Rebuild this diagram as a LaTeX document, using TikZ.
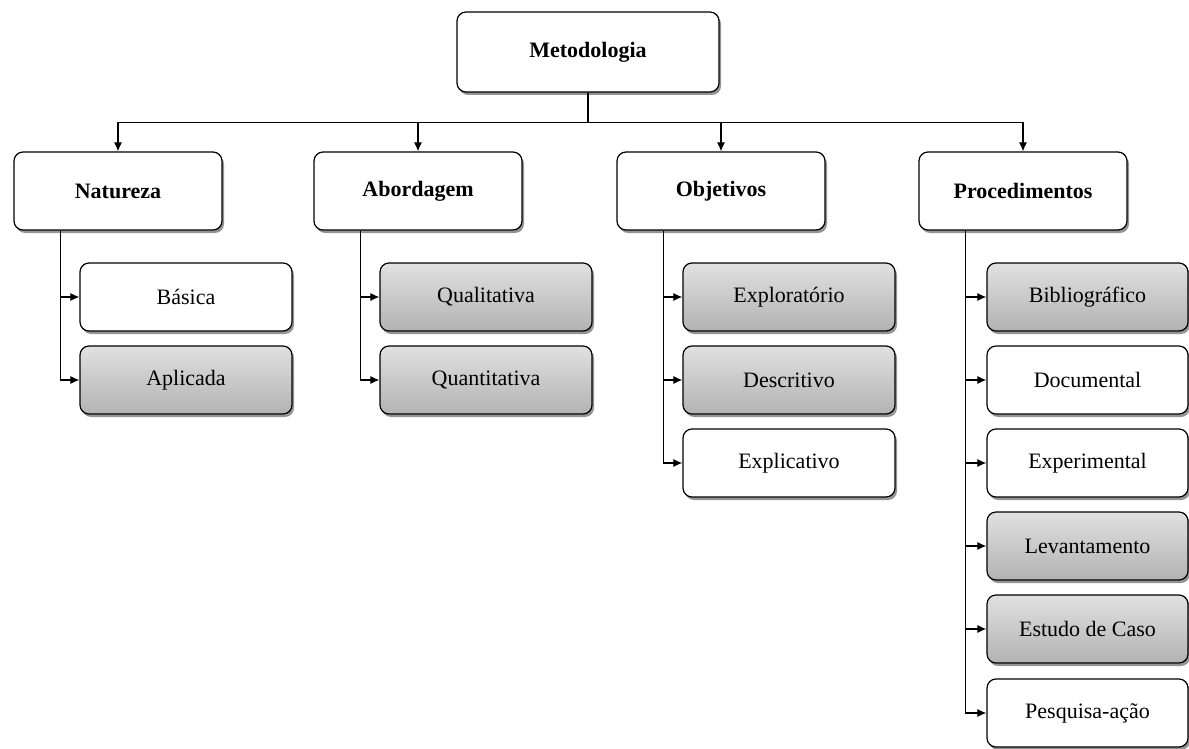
\documentclass[tikz,border=0pt]{standalone}
\usepackage{fontspec}
\setmainfont{Liberation Serif}
\newfontfamily\boxfont{Liberation Serif}
\usetikzlibrary{positioning,shadows,arrows.meta}

\tikzset{
  box/.style={draw, rounded corners=9pt, fill=white, line width=1.2pt,
    drop shadow={shadow xshift=2pt,shadow yshift=-3pt,opacity=0.6,fill=black!70},
    font=\boxfont\fontsize{22}{25}\selectfont},
  topbox/.style={box, minimum width=262pt, minimum height=80pt,
    font=\boxfont\fontsize{22}{25}\selectfont\bfseries},
  headbox/.style={box, minimum width=208pt, minimum height=78pt,
    font=\boxfont\fontsize{22}{25}\selectfont\bfseries},
  itembox/.style={box, minimum width=212pt, minimum height=68pt},
  marked/.style={top color=black!12, bottom color=black!30},
  link/.style={line width=1.1pt, -{Latex[length=9pt,width=8pt]}}
}

\begin{document}
\begin{tikzpicture}[x=1pt,y=-1pt]
  \useasboundingbox (0,0) rectangle (1189,749);
  % top and second level
  \node[topbox] (root) at (588,52) {Metodologia};
  \node[headbox] (nat) at (118,191) {Natureza};
  \node[headbox] (abo) at (418,191) {Abordagem};
  \node[headbox] (obj) at (721,191) {Objetivos};
  \node[headbox] (pro) at (1023,191) {Procedimentos};
  % items
  \node[itembox] (bas) at (186,297) {Básica};
  \node[itembox,marked] (apl) at (186,380) {Aplicada};
  \node[itembox,marked] (qua) at (486,297) {Qualitativa};
  \node[itembox,marked] (qnt) at (486,380) {Quantitativa};
  \foreach \nm/\txt/\y/\sh in {exp/Exploratório/297/marked,des/Descritivo/380/marked,
    exl/Explicativo/463/}
    { \node[itembox,\sh] (\nm) at (789,\y) {\txt}; }
  \foreach \nm/\txt/\y/\sh in {bib/Bibliográfico/297/marked,doc/Documental/380/,
    ext/Experimental/463/,lev/Levantamento/546/marked,est/Estudo de Caso/629/marked,
    pea/Pesquisa-ação/713/}
    { \node[itembox,minimum width=201pt,\sh] (\nm) at (1087.5,\y) {\txt}; }
  % connectors
  \foreach \n in {nat,abo,obj,pro}
    { \draw[link] (root.south) -- ++(0,30) -| (\n.north); }
  \foreach \p/\c in {nat/bas,nat/apl,abo/qua,abo/qnt,obj/exp,obj/des,obj/exl,
    pro/bib,pro/doc,pro/ext,pro/lev,pro/est,pro/pea}
    { \draw[link] ([xshift=47pt]\p.south west) |- (\c.west); }
\end{tikzpicture}
\end{document}
